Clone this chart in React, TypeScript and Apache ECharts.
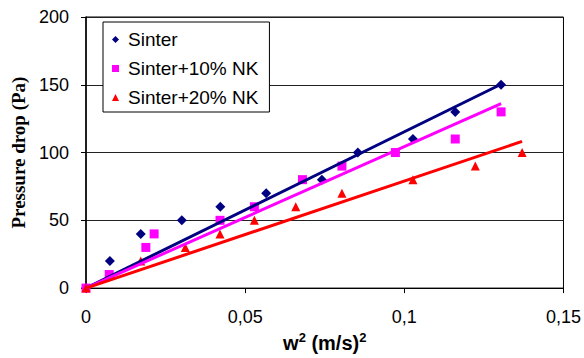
import React, { useEffect, useRef } from "react";
import * as echarts from "echarts";

const xTicks = [0, 0.05, 0.1, 0.15];
const yTicks = [0, 50, 100, 150, 200];

const sinterX = [0, 0.0075, 0.0172, 0.0301, 0.0422, 0.0566, 0.0741, 0.0854, 0.1027, 0.116, 0.1304];
const sinterY = [0, 20, 40, 50, 60, 70, 80, 100, 110, 130, 150];

const nk10X = [0, 0.0073, 0.0188, 0.0214, 0.0421, 0.0529, 0.068, 0.0804, 0.0972, 0.116, 0.1304];
const nk10Y = [0, 10, 30, 40, 50, 60, 80, 90, 100, 110, 130];

const nk20X = [0, 0.0172, 0.0312, 0.0421, 0.0529, 0.0659, 0.0804, 0.1027, 0.1223, 0.137];
const nk20Y = [0, 20, 30, 40, 50, 60, 70, 80, 90, 100];

const names = ["Sinter", "Sinter+10% NK", "Sinter+20% NK"];
const colors = ["#000080", "#FF00FF", "#FF0000"];
const symbols = ["diamond", "rect", "triangle"];

function pairs(xs: number[], ys: number[]) {
  return xs.map((x, i) => [x, ys[i]]);
}

// least squares trendline through the origin, drawn from 0 to max x
function trend(xs: number[], ys: number[]) {
  let sxy = 0;
  let sxx = 0;
  xs.forEach((x, i) => {
    sxy += x * ys[i];
    sxx += x * x;
  });
  const k = sxy / sxx;
  const xmax = Math.max(...xs);
  return [
    [0, 0],
    [xmax, k * xmax],
  ];
}

export default function App() {
  const ref = useRef<HTMLDivElement>(null);
  useEffect(() => {
    if (!ref.current) return;
    const chart = echarts.init(ref.current, undefined, { renderer: "svg" });
    const sets = [
      [sinterX, sinterY],
      [nk10X, nk10Y],
      [nk20X, nk20Y],
    ];
    const symbolSizes = [10, 9, 9];
    const scatterSeries = sets.map(([xs, ys], i) => ({
      type: "scatter",
      name: names[i],
      data: pairs(xs, ys),
      symbol: symbols[i],
      symbolSize: symbolSizes[i],
      itemStyle: { color: colors[i], opacity: 1 },
      z: 2 + i,
    }));
    const lineSeries = sets.map(([xs, ys], i) => ({
      type: "line",
      name: names[i] + " trend",
      data: trend(xs, ys),
      showSymbol: false,
      symbol: "none",
      lineStyle: { color: colors[i], width: 3 },
      z: 6 + i,
    }));
    chart.setOption({
      animation: false,
      backgroundColor: "#fff",
      textStyle: { fontFamily: "Liberation Sans, Arial, sans-serif" },
      grid: {
        left: 86,
        top: 17,
        right: 20,
        bottom: 62,
        show: true,
        borderColor: "#000",
        borderWidth: 1,
        backgroundColor: "transparent",
      },
      legend: {
        data: names.map((n, i) => ({ name: n, icon: symbols[i] })),
        orient: "vertical",
        left: 103,
        top: 22,
        padding: [8, 11, 5, 9],
        itemWidth: 7,
        itemHeight: 7,
        itemGap: 10,
        backgroundColor: "#fff",
        borderColor: "#000",
        borderWidth: 1,
        textStyle: {
          fontFamily: "Liberation Sans, Arial, sans-serif",
          fontSize: 19,
          color: "#000",
          lineHeight: 19,
          padding: [0, 0, 0, 4],
        },
      },
      xAxis: {
        type: "value",
        min: xTicks[0],
        max: xTicks[xTicks.length - 1],
        interval: 0.05,
        name: "{a|w}{s|2}{a| (m/s)}{s|2}",
        nameLocation: "middle",
        nameGap: 39,
        nameTextStyle: {
          fontFamily: "Liberation Sans, Arial, sans-serif",
          fontWeight: "bold",
          fontSize: 20,
          color: "#000",
          rich: {
            a: {
              fontFamily: "Liberation Sans, Arial, sans-serif",
              fontWeight: "bold",
              fontSize: 20,
              lineHeight: 24,
              color: "#000",
            },
            s: {
              fontFamily: "Liberation Sans, Arial, sans-serif",
              fontWeight: "bold",
              fontSize: 13,
              lineHeight: 13,
              verticalAlign: "top",
              color: "#000",
            },
          },
        },
        axisLine: { onZero: false, lineStyle: { color: "#000", width: 1 } },
        axisTick: { show: true, inside: false, length: 5, lineStyle: { color: "#000" } },
        axisLabel: {
          margin: 20,
          fontSize: 18,
          color: "#000",
          formatter: (v: number) => String(Math.round(v * 100) / 100).replace(".", ","),
        },
        splitLine: { show: false },
      },
      yAxis: {
        type: "value",
        min: yTicks[0],
        max: yTicks[yTicks.length - 1],
        interval: 50,
        name: "Pressure drop (Pa)",
        nameLocation: "middle",
        nameGap: 55,
        nameTextStyle: {
          fontFamily: "Liberation Serif, Times New Roman, serif",
          fontWeight: "bold",
          fontSize: 19,
          color: "#000",
        },
        axisLine: { show: true, onZero: false, lineStyle: { color: "#000", width: 1.5 } },
        axisTick: { show: true, inside: false, length: 5, lineStyle: { color: "#000" } },
        axisLabel: { margin: 17, fontSize: 18, color: "#000" },
        splitLine: { show: true, lineStyle: { color: "#222", width: 1 } },
      },
      series: [...scatterSeries, ...lineSeries],
    });
    return () => chart.dispose();
  }, []);
  return <div ref={ref} style={{ width: 584, height: 358, position: "absolute", left: 0, top: 0 }} />;
}
